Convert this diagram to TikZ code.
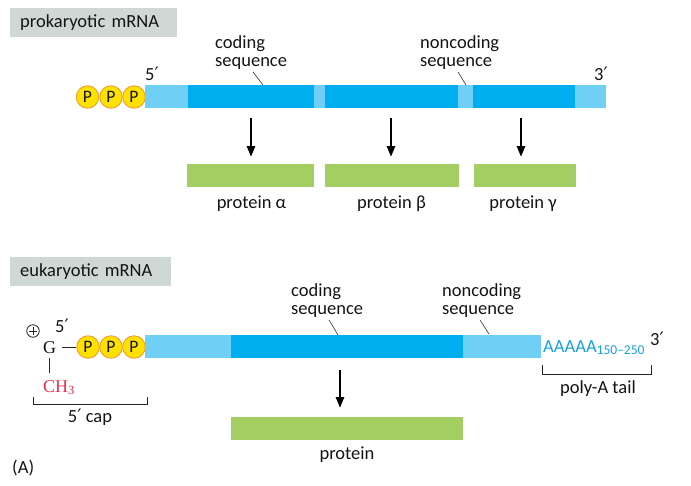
\documentclass[tikz,border=0pt]{standalone}
\usepackage{fontspec}
\setmainfont{Carlito}
\newfontfamily\serif{Liberation Serif}
\newfontfamily\symfont{DejaVu Sans}
\newcommand\prm{{\symfont ′}}
\usetikzlibrary{arrows.meta}
\definecolor{lblue}{HTML}{6FCFF5}
\definecolor{dblue}{HTML}{00AEEF}
\definecolor{pgreen}{HTML}{A3CF62}
\definecolor{lblbox}{HTML}{CFD8D5}
\definecolor{pyel}{HTML}{FFE100}
\definecolor{porange}{HTML}{F0A030}
\definecolor{chred}{HTML}{E8304A}
\definecolor{atext}{HTML}{1AA0E0}
\begin{document}
\begin{tikzpicture}[x=1pt,y=-1pt,
  every node/.style={font=\fontsize{18.5}{18}\selectfont, text=black!92},
  seg/.style={rectangle, inner sep=0pt, outer sep=0pt, minimum height=23pt, anchor=west},
  lseg/.style={seg, fill=lblue},
  dseg/.style={seg, fill=dblue},
  prot/.style={seg, fill=pgreen},
  pcirc/.style={circle, fill=pyel, draw=porange, line width=0.9pt, inner sep=0pt, minimum size=22.5pt, font=\fontsize{17.5}{17}\selectfont},
  title/.style={rectangle, fill=lblbox, inner ysep=0pt, inner xsep=10pt, minimum height=29pt, anchor=north west, align=left},
  lbl/.style={align=left, inner sep=0pt, anchor=north west},
  leader/.style={line width=0.6pt, black!80},
  arr/.style={line width=2.6pt, -{Triangle[width=8pt,length=11pt]}},
  brk/.style={line width=0.9pt, black!85},
  chem/.style={inner sep=0pt, font=\serif\fontsize{18}{18}\selectfont}
]
\useasboundingbox (0,0) rectangle (691,485);

% ---------- prokaryotic ----------
\node[title, text width=147pt] (tp) at (10,8) {prokaryotic mRNA};

\node[pcirc] (pp1) at (87.5,97) {P};
\node[pcirc] (pp2) at (111,97) {P};
\node[pcirc] (pp3) at (134,97) {P};

\node[lseg, minimum width=43pt]  (p1) at (145,96.5) {};
\node[dseg, minimum width=126pt] (c1) at (188,96.5) {};
\node[lseg, minimum width=11pt]  (n1) at (314,96.5) {};
\node[dseg, minimum width=133pt] (c2) at (325,96.5) {};
\node[lseg, minimum width=15pt]  (n2) at (458,96.5) {};
\node[dseg, minimum width=102pt] (c3) at (473,96.5) {};
\node[lseg, minimum width=31pt]  (n3) at (575,96.5) {};

\node[anchor=base west, inner sep=0pt] (p5) at (145,80) {5\prm};
\node[anchor=base west, inner sep=0pt] (p3) at (594,80) {3\prm};

\node[lbl] (pcod) at (215,35) {coding\\sequence};
\node[lbl] (pnon) at (420,35) {noncoding\\sequence};
\coordinate (pcl1) at (253,72); \coordinate (pcl2) at (263,85);
\coordinate (pnl1) at (458,72); \coordinate (pnl2) at (466,85);
\draw[leader] (pcl1) -- (pcl2);
\draw[leader] (pnl1) -- (pnl2);

\node[prot, minimum width=127pt] (pa) at (187,175.5) {};
\node[prot, minimum width=134pt] (pb) at (325,175.5) {};
\node[prot, minimum width=102pt] (pc) at (474,175.5) {};

\coordinate (a1s) at (251,118); \coordinate (a1e) at (251,157);
\coordinate (a2s) at (391,118); \coordinate (a2e) at (391,157);
\coordinate (a3s) at (521,118); \coordinate (a3e) at (521,157);
\draw[arr] (a1s) -- (a1e);
\draw[arr] (a2s) -- (a2e);
\draw[arr] (a3s) -- (a3e);

\node[anchor=base, inner sep=0pt] (la) at (251.5,208) {protein α};
\node[anchor=base, inner sep=0pt] (lb) at (391.5,208) {protein β};
\node[anchor=base, inner sep=0pt] (lc) at (523,208) {protein γ};

% ---------- eukaryotic ----------
\node[title, text width=141pt] (te) at (10,257) {eukaryotic mRNA};

\node[pcirc] (ep1) at (88,347) {P};
\node[pcirc] (ep2) at (111,347) {P};
\node[pcirc] (ep3) at (134,347) {P};

\node[lseg, minimum width=86pt]  (e1) at (145,346.5) {};
\node[dseg, minimum width=232pt] (e2) at (231,346.5) {};
\node[lseg, minimum width=78pt]  (e3) at (463,346.5) {};

\node[chem, anchor=base] (G) at (49.5,353) {G};
\coordinate (gl) at (62,347);
\draw[line width=0.9pt, black!85] (gl) -- (ep1.west);
\node[circle, draw=black!85, line width=0.8pt, minimum size=12.5pt, inner sep=0pt] (plus) at (33,331) {};
\draw[line width=0.8pt, black!85] ([xshift=-4pt]plus.center) -- ([xshift=4pt]plus.center);
\draw[line width=0.8pt, black!85] ([yshift=-4pt]plus.center) -- ([yshift=4pt]plus.center);
\node[anchor=base west, inner sep=0pt] (e5) at (55,332) {5\prm};

\node[chem, anchor=base west, text=chred] (ch) at (43,392) {CH\textsubscript{3}};
\coordinate (gv1) at (49.5,358); \coordinate (gv2) at (49.5,373);
\draw[line width=0.9pt, black!85] (gv1) -- (gv2);

\draw[brk] (33,397) -- (33,404) -- (147,404) -- (147,397);
\node[anchor=base, inner sep=0pt] (cap) at (90,422) {5\prm{} cap};

\node[anchor=base west, inner sep=0pt, text=atext] (polyA) at (543,352) {AAAAA\raisebox{-0.3ex}{\fontsize{13.5}{13}\selectfont 150–250}};
\node[anchor=base west, inner sep=0pt] (e3p) at (650,345) {3\prm};
\draw[brk] (542,365) -- (542,374) -- (651,374) -- (651,365);
\node[anchor=base, inner sep=0pt] (ptail) at (598,393) {poly-A tail};

\node[lbl] (ecod) at (291,283) {coding\\sequence};
\node[lbl] (enon) at (442,283) {noncoding\\sequence};
\coordinate (ecl1) at (329,320); \coordinate (ecl2) at (338,335);
\coordinate (enl1) at (480,320); \coordinate (enl2) at (489,334);
\draw[leader] (ecl1) -- (ecl2);
\draw[leader] (enl1) -- (enl2);

\coordinate (a4s) at (340,370); \coordinate (a4e) at (340,408);
\draw[arr] (a4s) -- (a4e);

\node[prot, minimum width=232pt] (pe) at (231,428.5) {};
\node[anchor=base, inner sep=0pt] (lp) at (347,459) {protein};

\node[anchor=base west, inner sep=0pt] (A) at (12,473) {(A)};
\end{tikzpicture}
\end{document}
